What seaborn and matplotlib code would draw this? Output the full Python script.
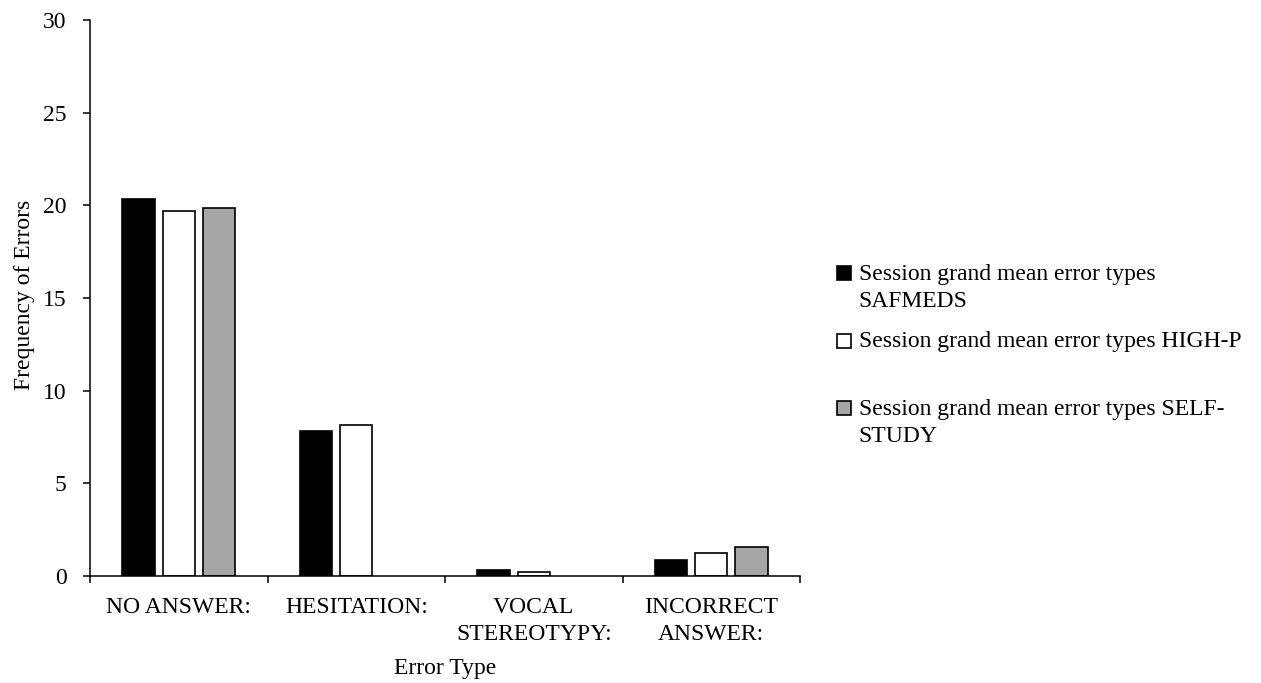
import numpy as np
import pandas as pd
import matplotlib.pyplot as plt
from matplotlib.lines import Line2D
import seaborn as sns

# values
error_types = ['NO ANSWER:', 'HESITATION:', 'VOCAL\nSTEREOTYPY:', 'INCORRECT\nANSWER:']
series_names = ['Session grand mean error types\nSAFMEDS',
                'Session grand mean error types HIGH-P\n',
                'Session grand mean error types SELF-\nSTUDY']
safmeds = [20.35, 7.8, 0.35, 0.85]
high_p = [19.7, 8.15, 0.23, 1.22]
self_study = [19.85, 0, 0, 1.55]

df = pd.DataFrame({
    'Error Type': error_types * 3,
    'Series': [series_names[0]] * 4 + [series_names[1]] * 4 + [series_names[2]] * 4,
    'Value': safmeds + high_p + self_study,
})

sns.set_style('white')
plt.rcParams['font.family'] = ['Liberation Serif', 'DejaVu Serif']
plt.rcParams['text.color'] = 'black'
plt.rcParams['axes.labelcolor'] = 'black'
plt.rcParams['xtick.color'] = 'black'
plt.rcParams['ytick.color'] = 'black'
FS = 17

fig = plt.figure(figsize=(12.61, 6.83), dpi=100)
ax = fig.add_axes([90 / 1261, 1 - 576 / 683, 710 / 1261, 556 / 683])

palette = ['#000000', '#ffffff', '#a6a6a6']
sns.barplot(data=df, x='Error Type', y='Value', hue='Series', palette=palette,
            width=0.68, gap=0.2, edgecolor='black', linewidth=1.2, ax=ax,
            saturation=1, legend=False)

# zero values: no visible bar in the original
for p in ax.patches:
    if p.get_height() == 0:
        p.set_linewidth(0)

ax.set_ylim(0, 30)
ax.set_xlim(-0.5, 3.5)
ax.set_yticks(range(0, 31, 5))
ax.set_xticks(range(4))
ax.set_xticklabels(error_types)
ax.set_xticks(np.arange(-0.5, 4, 1), minor=True)
ax.tick_params(axis='x', which='major', length=0, labelsize=FS, pad=15)
ax.tick_params(axis='x', which='minor', length=5, width=1.1, color='black', direction='out', bottom=True)
ax.tick_params(axis='y', length=5, width=1.1, color='black', direction='out', labelsize=FS, left=True, pad=12)
for lbl in ax.get_xticklabels():
    lbl.set_linespacing(1.4)

sns.despine(ax=ax)
for s in ('left', 'bottom'):
    ax.spines[s].set_color('black')
    ax.spines[s].set_linewidth(1.1)

ax.set_xlabel('Error Type', fontsize=FS)
ax.set_ylabel('Frequency of Errors', fontsize=FS)
ax.xaxis.set_label_coords(0.5, (576 - 658) / 556)
ax.yaxis.set_label_coords((35 - 90) / 710, 0.505)

handles = [Line2D([], [], linestyle='', marker='s', markersize=10,
                  markerfacecolor=c, markeredgecolor='black', markeredgewidth=1.2)
           for c in palette]
leg = fig.legend(handles, series_names, loc='upper left',
                 bbox_to_anchor=(835 / 1261, 1 - 264 / 683), bbox_transform=fig.transFigure,
                 frameon=False, fontsize=FS, handlelength=0.75, handleheight=1.0,
                 handletextpad=0.25, labelspacing=0.8, borderpad=0, borderaxespad=0)
for t in leg.get_texts():
    t.set_linespacing(1.4)
for col in leg._legend_handle_box.get_children():
    for row in col.get_children():
        row.align = 'top'

fig.savefig('out.png', dpi=100)
